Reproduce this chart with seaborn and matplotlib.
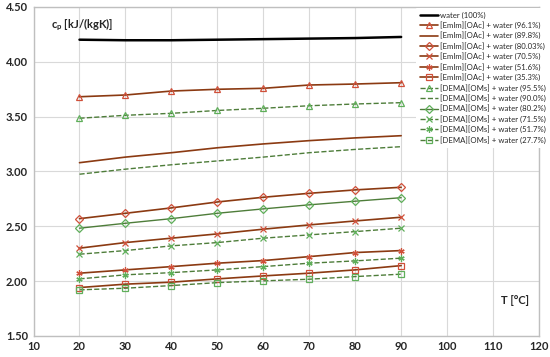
import numpy as np
import pandas as pd
import matplotlib
matplotlib.use("Agg")
import matplotlib.pyplot as plt
import seaborn as sns

# temperatures [°C]
T = [20, 30, 40, 50, 60, 70, 80, 90]

# cp values [kJ/(kgK)]
water = [4.20, 4.195, 4.195, 4.20, 4.205, 4.21, 4.215, 4.225]

emim_961 = [3.680, 3.696, 3.732, 3.748, 3.757, 3.787, 3.796, 3.808]
emim_898 = [3.079, 3.130, 3.170, 3.215, 3.250, 3.280, 3.305, 3.325]
emim_8003 = [2.569, 2.618, 2.667, 2.721, 2.764, 2.800, 2.831, 2.855]
emim_705 = [2.300, 2.351, 2.391, 2.430, 2.473, 2.512, 2.548, 2.582]
emim_516 = [2.072, 2.102, 2.132, 2.163, 2.187, 2.223, 2.260, 2.278]
emim_353 = [1.941, 1.972, 1.990, 2.020, 2.047, 2.072, 2.102, 2.141]

dema_955 = [3.484, 3.511, 3.529, 3.555, 3.575, 3.598, 3.614, 3.626]
dema_900 = [2.974, 3.020, 3.060, 3.095, 3.130, 3.170, 3.200, 3.225]
dema_802 = [2.482, 2.527, 2.569, 2.618, 2.658, 2.695, 2.728, 2.760]
dema_715 = [2.245, 2.278, 2.321, 2.351, 2.391, 2.421, 2.451, 2.482]
dema_517 = [2.020, 2.057, 2.077, 2.102, 2.132, 2.163, 2.184, 2.209]
dema_277 = [1.920, 1.935, 1.959, 1.986, 2.002, 2.017, 2.041, 2.063]

x_ticks = np.arange(10, 121, 10)
y_ticks = np.arange(1.5, 4.51, 0.5)

sns.set_style("whitegrid")
plt.rcParams['font.family'] = ['Lato', 'DejaVu Sans']
plt.rcParams['mathtext.fontset'] = 'custom'
plt.rcParams['mathtext.rm'] = 'Lato'
plt.rcParams['mathtext.bf'] = 'Lato:bold'

fig = plt.figure(figsize=(5.5, 3.57), dpi=100)
ax = fig.add_axes([0.061, 0.059, 0.919, 0.922])

emim_line = '#8B3A12'
emim_mark = '#D0503A'
dema_line = '#4E7D3A'
dema_mark = '#5FAF5A'

series = [
    ('water (100%)', water, 'black', None, None, '-', 1.8),
    ('[EmIm][OAc] + water (96.1%)', emim_961, emim_line, '^', emim_mark, '-', 1.2),
    ('[EmIm][OAc] + water (89.8%)', emim_898, emim_line, None, None, '-', 1.2),
    ('[EmIm][OAc] + water (80.03%)', emim_8003, emim_line, 'D', emim_mark, '-', 1.2),
    ('[EmIm][OAc] + water (70.5%)', emim_705, emim_line, 'x', emim_mark, '-', 1.2),
    ('[EmIm][OAc] + water (51.6%)', emim_516, emim_line, (6, 2, 0), emim_mark, '-', 1.2),
    ('[EmIm][OAc] + water (35.3%)', emim_353, emim_line, 's', emim_mark, '-', 1.2),
    ('[DEMA][OMs] + water (95.5%)', dema_955, dema_line, '^', dema_mark, '--', 1.0),
    ('[DEMA][OMs] + water (90.0%)', dema_900, dema_line, None, None, '--', 1.0),
    ('[DEMA][OMs] + water (80.2%)', dema_802, dema_line, 'D', dema_mark, '-', 1.0),
    ('[DEMA][OMs] + water (71.5%)', dema_715, dema_line, 'x', dema_mark, '--', 1.0),
    ('[DEMA][OMs] + water (51.7%)', dema_517, dema_line, (6, 2, 0), dema_mark, '--', 1.0),
    ('[DEMA][OMs] + water (27.7%)', dema_277, dema_line, 's', dema_mark, '--', 1.0),
]

for label, vals, col, mk, mcol, ls, lw in series:
    kw = dict(color=col, linestyle=ls, linewidth=lw, label=label)
    if mk is not None:
        kw.update(marker=mk, markersize=4.5, markerfacecolor='none',
                  markeredgecolor=mcol, markeredgewidth=0.9)
    sns.lineplot(x=T, y=vals, ax=ax, **kw)

ax.set_xlim(10, 120)
ax.set_ylim(1.5, 4.5)
ax.set_xticks(x_ticks)
ax.set_yticks(y_ticks)
ax.set_xticklabels([str(v) for v in x_ticks], fontweight='bold', fontsize=8)
ax.set_yticklabels([f'{v:.2f}' for v in y_ticks], fontweight='bold', fontsize=8)
ax.tick_params(axis='both', length=0, pad=4)
ax.grid(True, color='#d9d9d9', linewidth=0.8)
for s in ax.spines.values():
    s.set_color('#bfbfbf')
    s.set_linewidth(1.0)
ax.set_xlabel('')
ax.set_ylabel('')

ax.text(0.035, 0.945, r'$\mathbf{c_p}$ [kJ/(kgK)]', transform=ax.transAxes,
        fontsize=8, fontweight='bold', va='center', ha='left')
ax.text(0.925, 0.108, 'T [°C]', transform=ax.transAxes,
        fontsize=8, fontweight='bold', va='center', ha='left')

leg = ax.legend(loc='upper left', bbox_to_anchor=(0.755, 1.0), fontsize=5.6,
                frameon=True, facecolor='white', edgecolor='none', framealpha=1,
                handlelength=2.4, handletextpad=0.15, labelspacing=0.33,
                borderpad=0.5, borderaxespad=0.1)

fig.savefig('out.png', dpi=100)
